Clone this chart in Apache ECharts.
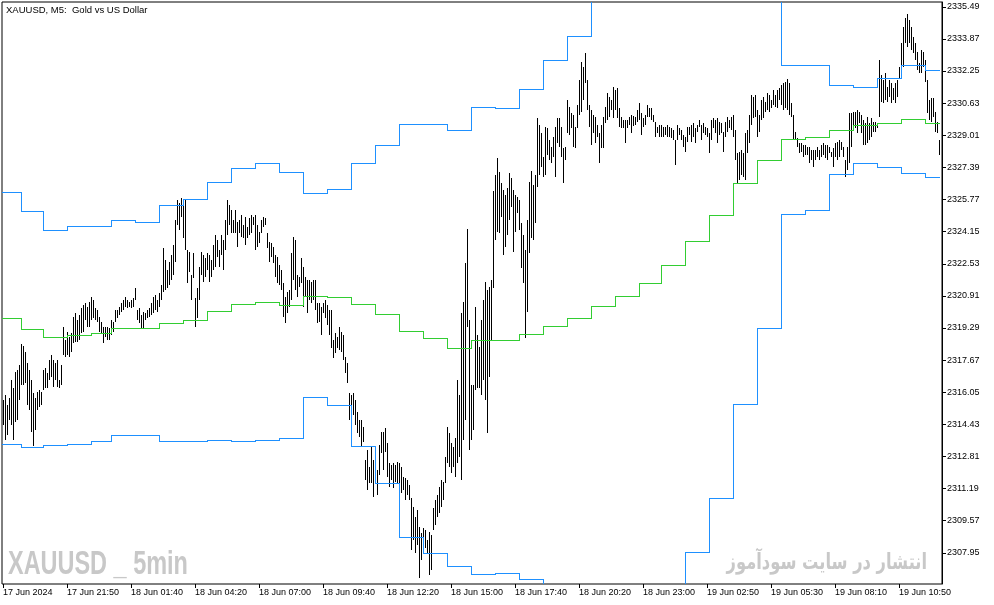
<!DOCTYPE html>
<html><head><meta charset="utf-8">
<script src="https://cdn.jsdelivr.net/npm/echarts@6/dist/echarts.min.js"></script>
<style>html,body{margin:0;padding:0;background:#fff}#c{width:994px;height:605px}</style>
</head><body><div id="c"></div>
<script>
// XAUUSD M5 bars (high / low)
const barHigh = [
2315.66,2315.91,2315.41,2315.76,2316.67,2316.26,2317.07,2317.17,2317.42,2318.48,
2318.38,2318.08,2317.53,2317.17,2316.67,2316.01,2315.76,2316.06,2316.16,2316.06,
2317.17,2317.27,2317.02,2317.68,2317.93,2317.68,2317.53,2317.68,2316.67,2317.42,
2319.34,2318.68,2319.09,2318.84,2319.04,2319.84,2320.05,2319.69,2319.94,2320.30,
2320.45,2320.55,2320.35,2320.60,2320.85,2320.70,2320.30,2320.20,2319.84,2319.59,
2319.34,2319.34,2319.34,2319.29,2319.69,2319.59,2320.20,2320.20,2320.35,2320.55,
2320.70,2320.85,2320.70,2320.60,2320.70,2320.80,2321.31,2320.20,2320.30,2319.94,
2320.10,2320.05,2320.20,2320.30,2320.55,2320.85,2320.95,2320.70,2321.06,2321.46,
2323.32,2322.72,2322.21,2322.62,2322.97,2323.47,2324.74,2325.74,2325.59,2325.84,
2325.49,2325.74,2323.22,2323.12,2321.96,2323.07,2320.80,2321.31,2322.36,2323.12,
2322.97,2322.82,2323.07,2322.97,2322.72,2323.47,2323.98,2323.73,2323.22,2323.98,
2323.73,2324.74,2325.74,2325.49,2325.24,2324.74,2325.24,2324.64,2324.74,2324.99,
2324.48,2324.89,2324.38,2324.84,2324.99,2324.89,2324.99,2324.48,2324.13,2324.74,
2324.89,2324.84,2324.08,2323.63,2323.58,2323.37,2322.97,2322.87,2322.47,2322.21,
2321.56,2320.85,2321.11,2321.21,2323.07,2323.88,2323.73,2321.96,2321.86,2322.82,
2322.36,2321.86,2321.71,2321.71,2321.61,2321.71,2321.71,2320.55,2320.55,2320.35,
2320.55,2320.70,2320.45,2320.20,2320.20,2318.68,2319.04,2318.84,2319.34,2319.09,
2318.94,2317.83,2317.53,2316.01,2315.91,2316.01,2315.66,2315.05,2314.65,2314.65,
2314.30,2312.63,2313.14,2312.28,2313.29,2312.63,2312.38,2312.13,2313.39,2314.05,
2314.05,2314.25,2313.49,2312.48,2312.38,2312.48,2312.38,2312.53,2312.48,2312.28,
2311.78,2311.73,2311.62,2311.37,2310.72,2310.26,2309.76,2310.11,2309.25,2308.95,
2309.20,2309.10,2308.60,2309.00,2308.85,2310.21,2310.62,2310.87,2311.27,2311.62,
2311.52,2312.78,2314.30,2314.00,2313.49,2313.29,2313.74,2316.67,2315.91,2320.05,
2320.60,2322.57,2324.28,2319.69,2316.42,2316.42,2320.35,2318.94,2318.33,2319.69,
2320.70,2321.61,2321.21,2321.36,2321.71,2326.20,2327.00,2327.86,2327.16,2326.60,
2326.25,2326.00,2326.35,2327.11,2326.85,2326.25,2326.00,2325.89,2325.74,2324.58,
2323.98,2323.22,2324.74,2326.65,2327.21,2326.50,2327.00,2329.88,2329.53,2329.12,
2327.91,2329.43,2329.38,2328.77,2328.42,2328.92,2329.43,2329.88,2329.88,2329.43,
2328.37,2328.42,2330.79,2330.43,2330.13,2330.03,2329.43,2330.53,2331.80,2332.70,
2332.45,2333.16,2331.80,2330.53,2330.28,2330.03,2329.93,2329.53,2329.12,2329.53,
2329.93,2330.43,2331.14,2330.94,2330.79,2331.44,2331.29,2331.39,2330.38,2329.93,
2329.78,2329.78,2329.78,2329.93,2330.03,2329.98,2329.93,2330.28,2330.64,2330.13,
2329.88,2330.03,2330.53,2330.38,2330.38,2330.03,2329.68,2329.43,2329.53,2329.53,
2329.43,2329.43,2329.53,2329.43,2329.38,2329.27,2328.77,2329.53,2329.38,2329.27,
2329.02,2328.92,2329.43,2329.43,2329.53,2329.63,2329.38,2329.53,2329.78,2329.53,
2329.63,2329.43,2329.38,2329.12,2329.78,2329.88,2329.78,2329.88,2329.68,2329.63,
2329.17,2329.68,2329.93,2329.78,2329.93,2330.03,2329.27,2328.11,2328.17,2328.27,
2328.11,2329.12,2329.27,2330.03,2331.04,2330.94,2331.04,2330.28,2330.03,2330.79,
2330.94,2330.69,2331.14,2331.04,2330.79,2331.29,2331.04,2331.29,2331.39,2331.54,
2331.64,2331.69,2331.85,2331.64,2330.64,2330.03,2329.17,2328.87,2328.62,2328.62,
2328.52,2328.52,2328.42,2328.42,2328.27,2328.27,2328.27,2328.42,2328.27,2328.52,
2328.62,2328.52,2328.52,2328.42,2328.17,2328.37,2328.62,2328.67,2328.77,2328.67,
2328.42,2327.76,2328.42,2330.13,2330.13,2330.18,2330.18,2330.28,2330.18,2330.03,
2329.78,2329.63,2329.93,2329.63,2329.88,2329.68,2329.68,2329.63,2332.80,2332.05,
2331.80,2332.15,2331.44,2331.80,2331.64,2331.39,2331.64,2331.80,2332.45,2333.66,
2334.47,2334.92,2335.12,2334.82,2334.47,2333.96,2333.66,2333.21,2332.65,2333.31,
2333.21,2332.80,2331.80,2330.79,2330.89,2330.89,2330.18,2329.68,2328.77
];
const barLow = [
2314.40,2313.64,2313.89,2314.65,2314.40,2313.64,2314.55,2314.65,2315.66,2316.42,
2316.42,2316.52,2315.41,2315.16,2314.05,2313.34,2314.15,2315.16,2315.31,2315.41,
2316.16,2316.26,2316.26,2316.67,2316.82,2316.31,2316.67,2316.31,2316.26,2316.42,
2317.93,2317.83,2317.93,2317.83,2318.08,2318.53,2318.58,2318.58,2318.68,2319.04,
2319.09,2319.69,2319.34,2319.34,2319.69,2319.79,2319.69,2319.59,2319.09,2319.04,
2318.53,2318.84,2318.68,2318.68,2318.94,2319.09,2319.59,2319.79,2319.94,2320.10,
2320.20,2320.35,2320.30,2320.35,2320.30,2320.35,2320.70,2319.69,2319.54,2319.29,
2319.29,2319.69,2319.79,2319.84,2319.94,2320.05,2320.20,2320.10,2320.35,2320.70,
2321.11,2321.21,2321.31,2321.46,2321.71,2321.96,2322.62,2324.48,2324.23,2324.89,
2323.83,2323.22,2321.56,2322.11,2320.70,2321.81,2319.34,2319.79,2320.70,2321.96,
2321.61,2321.86,2322.21,2321.61,2321.86,2322.21,2322.36,2322.87,2322.36,2322.97,
2322.21,2323.22,2323.98,2324.48,2324.08,2324.08,2324.08,2323.37,2324.08,2323.88,
2323.83,2323.47,2323.83,2323.98,2324.08,2324.48,2323.22,2323.37,2323.58,2324.08,
2324.38,2324.48,2323.32,2322.62,2322.87,2322.57,2321.86,2321.56,2321.46,2321.21,
2319.84,2319.54,2320.05,2320.35,2320.70,2321.71,2321.21,2320.85,2321.36,2321.56,
2320.35,2320.85,2320.05,2320.70,2320.55,2320.70,2320.20,2319.54,2319.59,2318.94,
2320.05,2319.79,2319.44,2318.94,2318.28,2317.78,2318.03,2318.28,2318.18,2318.08,
2317.68,2317.02,2316.52,2314.65,2313.89,2314.90,2314.40,2313.99,2313.79,2313.29,
2313.54,2311.62,2311.12,2311.47,2311.47,2310.77,2311.47,2310.87,2311.88,2312.99,
2312.13,2313.04,2311.78,2311.27,2311.62,2311.22,2311.52,2311.47,2311.12,2310.97,
2311.12,2310.62,2310.87,2310.62,2308.10,2308.60,2307.94,2308.35,2306.68,2307.59,
2308.25,2308.20,2307.94,2306.83,2307.09,2309.10,2309.36,2309.76,2309.96,2310.26,
2310.62,2311.47,2312.48,2312.28,2311.98,2312.28,2311.78,2312.48,2312.78,2311.62,
2313.64,2314.65,2319.34,2313.14,2313.64,2314.15,2316.16,2316.26,2316.26,2315.91,
2316.67,2315.66,2313.99,2316.82,2318.68,2321.31,2323.73,2324.13,2324.08,2324.89,
2322.97,2323.37,2323.98,2324.74,2325.39,2323.12,2324.13,2325.09,2324.23,2322.31,
2321.56,2318.78,2320.10,2323.07,2323.83,2323.73,2324.58,2326.40,2327.00,2327.41,
2326.90,2327.00,2328.01,2327.76,2327.61,2327.91,2326.90,2328.62,2328.42,2327.91,
2326.60,2327.76,2329.12,2329.02,2329.38,2328.42,2328.37,2329.38,2330.03,2330.18,
2330.79,2331.64,2330.28,2329.43,2328.52,2329.12,2328.62,2328.92,2327.61,2328.37,
2328.37,2329.63,2329.78,2329.93,2330.28,2329.88,2330.28,2329.88,2329.43,2329.38,
2329.38,2328.62,2329.38,2329.53,2329.12,2329.48,2329.53,2329.68,2329.78,2329.02,
2329.43,2329.53,2329.93,2329.93,2329.78,2329.68,2328.92,2329.12,2328.92,2328.92,
2328.92,2329.02,2328.92,2328.92,2328.87,2328.77,2327.51,2328.77,2329.02,2328.77,
2328.42,2328.17,2328.67,2329.02,2328.67,2328.92,2328.62,2329.17,2329.43,2328.77,
2329.12,2329.02,2328.92,2328.11,2328.77,2329.38,2329.12,2328.62,2329.02,2329.12,
2328.17,2328.92,2329.17,2329.38,2329.27,2328.92,2327.76,2326.60,2326.75,2327.00,
2326.90,2326.75,2328.11,2328.62,2329.53,2329.88,2329.93,2328.92,2329.17,2329.78,
2329.88,2330.18,2330.28,2330.18,2330.38,2330.53,2330.43,2330.38,2330.79,2330.53,
2330.28,2330.38,2330.28,2330.03,2329.93,2328.77,2328.77,2328.42,2328.11,2328.17,
2327.91,2328.01,2328.01,2327.61,2327.76,2327.41,2327.76,2327.91,2327.76,2327.91,
2328.01,2327.86,2327.76,2328.11,2327.91,2327.41,2327.91,2327.76,2327.91,2328.27,
2327.91,2326.90,2327.26,2327.61,2328.42,2329.27,2329.38,2329.12,2329.63,2329.12,
2328.52,2328.52,2328.62,2328.77,2328.92,2329.17,2329.17,2329.38,2329.93,2330.69,
2330.64,2330.79,2330.69,2330.94,2330.64,2330.79,2330.64,2330.94,2331.90,2331.95,
2332.45,2333.66,2333.46,2333.66,2333.31,2333.16,2332.80,2332.30,2332.15,2332.15,
2332.45,2331.69,2330.13,2329.78,2329.68,2329.93,2329.17,2329.12,2328.01
];
// Hourly channel: first bar of each hour and the channel levels
const hourStart = [0,10,21,33,45,55,67,79,91,103,115,127,139,151,163,175,187,199,211,223,235,247,259,271,283,295,307,319,330,342,354,366,378,390,402,414,426,438,450,462];
const upperBand = [2326.15,2325.19,2324.23,2324.43,2324.43,2324.74,2324.64,2325.49,2325.79,2326.65,2327.36,2327.61,2327.16,2326.10,2326.30,2327.61,2328.52,2329.58,2329.58,2329.27,2330.43,2330.38,2331.34,2332.80,2334.01,2336.30,2337.00,2338.00,2339.20,2339.37,2339.26,2337.74,2336.23,2332.55,2332.55,2331.54,2331.44,2331.90,2332.55,2332.30];
const middleBand = [2319.79,2319.24,2318.84,2318.94,2319.04,2319.29,2319.29,2319.54,2319.69,2320.15,2320.50,2320.60,2320.45,2320.90,2320.85,2320.50,2320.00,2319.14,2318.79,2318.28,2318.68,2318.68,2318.99,2319.39,2319.79,2320.40,2320.90,2321.56,2322.47,2323.68,2324.99,2326.60,2327.76,2328.82,2328.92,2329.27,2329.53,2329.63,2329.83,2329.63];
const lowerBand = [2313.44,2313.29,2313.39,2313.44,2313.59,2313.89,2313.89,2313.59,2313.59,2313.64,2313.59,2313.64,2313.74,2315.81,2315.41,2313.34,2311.47,2308.75,2307.94,2307.29,2306.88,2306.93,2306.63,2305.98,2305.57,2304.50,2304.80,2305.10,2305.70,2307.99,2310.72,2315.46,2319.29,2325.04,2325.24,2327.06,2327.61,2327.41,2327.11,2326.90];
// Axis ticks
const priceTicks = [2335.49,2333.87,2332.25,2330.63,2329.01,2327.39,2325.77,2324.15,2322.53,2320.91,2319.29,2317.67,2316.05,2314.43,2312.81,2311.19,2309.57,2307.95];
const timeTickBars = [0,32,64,96,128,160,192,224,256,288,320,352,384,416,448];
const timeTickLabels = ['17 Jun 2024','17 Jun 21:50','18 Jun 01:40','18 Jun 04:20','18 Jun 07:00','18 Jun 09:40','18 Jun 12:20','18 Jun 15:00','18 Jun 17:40','18 Jun 20:20','18 Jun 23:00','19 Jun 02:50','19 Jun 05:30','19 Jun 08:10','19 Jun 10:50'];
const chartTitle = 'XAUUSD, M5:  Gold vs US Dollar';
const watermarkLeft = 'XAUUSD _ 5min';
const watermarkRight = 'انتشار در سایت سودآموز';

const nBars = barHigh.length;
const barData = barHigh.map((h, i) => [i, h, barLow[i]]);
// each hourly segment: [fromX, toX, value, nextValue]
function bandSegments(vals) {
  return hourStart.map((s, k) => {
    const last = k === hourStart.length - 1;
    return [s - 0.5, (last ? nBars : hourStart[k + 1]) - 0.5, vals[k], last ? vals[k] : vals[k + 1]];
  });
}
function bandSeries(vals, color) {
  return {
    type: 'custom', data: bandSegments(vals), clip: true, z: 3,
    encode: {x: [0, 1], y: [2, 3]},
    renderItem: function (params, api) {
      const a = api.coord([api.value(0), api.value(2)]);
      const b = api.coord([api.value(1), api.value(2)]);
      const c = api.coord([api.value(1), api.value(3)]);
      const x0 = Math.round(a[0]), x1 = Math.round(b[0]);
      const y0 = Math.round(a[1]), y1 = Math.round(c[1]);
      const children = [
        {type: 'rect', shape: {x: x0, y: y0, width: Math.max(1, x1 - x0), height: 1}, style: {fill: color}}
      ];
      if (y1 !== y0) {
        const top = Math.min(y0, y1), bot = Math.max(y0, y1);
        children.push({type: 'rect', shape: {x: x1 - 1, y: top, width: 1, height: bot - top + 1}, style: {fill: color}});
      }
      return {type: 'group', children: children};
    }
  };
}
const FONT = '"Liberation Sans", Arial, sans-serif';
const chart = echarts.init(document.getElementById('c'), null, {renderer: 'canvas'});
chart.setOption({
  animation: false,
  backgroundColor: '#fff',
  grid: {left: 2, top: 2, right: 52, bottom: 21, show: true, borderColor: '#000', borderWidth: 1, containLabel: false, outerBoundsMode: 'none'},
  xAxis: {
    type: 'value', min: -0.5, max: nBars + 0.5,
    axisLine: {show: false, onZero: false}, splitLine: {show: false},
    axisTick: {show: true, customValues: timeTickBars, length: 4, lineStyle: {color: '#000', width: 1}},
    axisLabel: {customValues: timeTickBars, formatter: v => timeTickLabels[timeTickBars.indexOf(v)],
      align: 'left', margin: 4, color: '#000', fontSize: 9, fontFamily: FONT}
  },
  yAxis: {
    type: 'value', position: 'right', min: 2306.38, max: 2335.73, scale: true,
    axisLine: {show: true, onZero: false, lineStyle: {color: '#000', width: 1}}, splitLine: {show: false},
    axisTick: {show: true, customValues: priceTicks, length: 4, lineStyle: {color: '#000'}},
    axisLabel: {customValues: priceTicks, formatter: v => v.toFixed(2), margin: 5, color: '#000', fontSize: 9, fontFamily: FONT}
  },
  series: [
    {
      type: 'custom', data: barData, clip: true, encode: {x: 0, y: [1, 2]}, z: 2,
      renderItem: function (params, api) {
        const i = api.value(0);
        const top = api.coord([i, api.value(1)]);
        const bot = api.coord([i, api.value(2)]);
        const x = Math.round(top[0] - 0.5);
        const y1 = Math.round(top[1]);
        const y2 = Math.max(Math.round(bot[1]), y1 + 1);
        return {type: 'rect', shape: {x: x, y: y1, width: 1, height: y2 - y1}, style: {fill: '#000'}};
      }
    },
    bandSeries(upperBand, '#1E90FF'),
    bandSeries(lowerBand, '#1E90FF'),
    bandSeries(middleBand, '#32CD32')
  ],
  graphic: [
    {type: 'text', x: 6, y: 10, z: 10, style: {text: chartTitle, font: '9.5px ' + FONT, fill: '#000', verticalAlign: 'middle'}},
    {type: 'text', x: 8, y: 565, scaleX: 0.69, z: 10, style: {text: watermarkLeft, font: 'bold 34px ' + FONT, fill: '#c8c8c8', verticalAlign: 'middle'}},
    {type: 'text', x: 927, y: 563, scaleX: 0.74, z: 10, style: {text: watermarkRight, font: 'bold 22px "DejaVu Sans"', fill: '#c8c8c8', align: 'right', verticalAlign: 'middle'}}
  ]
});
</script></body></html>
